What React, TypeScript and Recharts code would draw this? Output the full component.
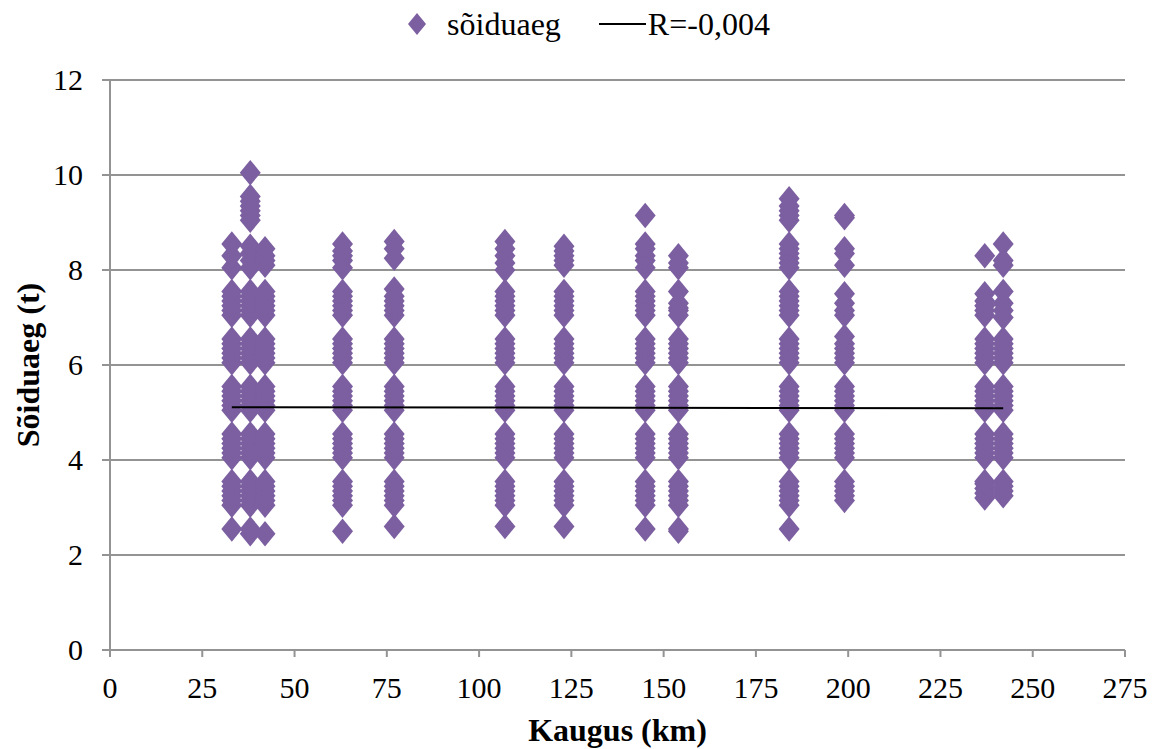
import { ScatterChart, Scatter, XAxis, YAxis, CartesianGrid, Legend } from "recharts";

// distances (km) where the trips were measured
const kaugus = [33, 38, 42, 63, 77, 107, 123, 145, 154, 184, 199, 237, 242];

// travel time values (t) read for each distance column
const col33 = [2.55, 3.05, 3.15, 3.25, 3.35, 3.45, 3.55, 4.05, 4.15, 4.25, 4.35, 4.45, 4.55, 5.05, 5.15, 5.25, 5.35, 5.45, 5.55, 6.05, 6.15, 6.25, 6.35, 6.45, 6.55, 7.05, 7.15, 7.25, 7.35, 7.45, 7.55, 8.05, 8.3, 8.55];
const col38 = [2.45, 2.55, 3.05, 3.15, 3.25, 3.35, 3.45, 3.55, 4.05, 4.15, 4.25, 4.35, 4.45, 4.55, 5.05, 5.15, 5.25, 5.35, 5.45, 5.55, 6.05, 6.15, 6.25, 6.35, 6.45, 6.55, 7.05, 7.15, 7.25, 7.35, 7.45, 7.55, 8.05, 8.2, 8.35, 8.5, 9.05, 9.15, 9.25, 9.35, 9.45, 9.55, 10.05];
const col42 = [2.45, 3.05, 3.15, 3.25, 3.35, 3.45, 3.55, 4.05, 4.15, 4.25, 4.35, 4.45, 4.55, 5.05, 5.15, 5.25, 5.35, 5.45, 5.55, 6.05, 6.15, 6.25, 6.35, 6.45, 6.55, 7.05, 7.15, 7.25, 7.35, 7.45, 7.55, 8.1, 8.2, 8.3, 8.45];
const col63 = [2.5, 3.05, 3.15, 3.25, 3.35, 3.45, 3.55, 4.05, 4.15, 4.25, 4.35, 4.45, 4.55, 5.05, 5.15, 5.25, 5.35, 5.45, 5.55, 6.05, 6.15, 6.25, 6.35, 6.45, 6.55, 7.05, 7.15, 7.25, 7.35, 7.45, 7.55, 8.05, 8.2, 8.3, 8.4, 8.55];
const col77 = [2.6, 3.05, 3.15, 3.25, 3.35, 3.45, 3.55, 4.05, 4.15, 4.25, 4.35, 4.45, 4.55, 5.05, 5.15, 5.25, 5.35, 5.45, 5.55, 6.05, 6.15, 6.25, 6.35, 6.45, 6.55, 7.05, 7.15, 7.25, 7.35, 7.45, 7.6, 8.25, 8.45, 8.6];
const col107 = [2.6, 3.05, 3.15, 3.25, 3.35, 3.45, 3.55, 4.05, 4.15, 4.25, 4.35, 4.45, 4.55, 5.05, 5.15, 5.25, 5.35, 5.45, 5.55, 6.05, 6.15, 6.25, 6.35, 6.45, 6.55, 7.05, 7.15, 7.25, 7.35, 7.45, 7.55, 8.0, 8.15, 8.3, 8.45, 8.6];
const col123 = [2.6, 3.05, 3.15, 3.25, 3.35, 3.45, 3.55, 4.05, 4.15, 4.25, 4.35, 4.45, 4.55, 5.05, 5.15, 5.25, 5.35, 5.45, 5.55, 6.05, 6.15, 6.25, 6.35, 6.45, 6.55, 7.05, 7.15, 7.25, 7.35, 7.45, 7.55, 8.1, 8.2, 8.3, 8.4, 8.5];
const col145 = [2.55, 3.05, 3.15, 3.25, 3.35, 3.45, 3.55, 4.05, 4.15, 4.25, 4.35, 4.45, 4.55, 5.05, 5.15, 5.25, 5.35, 5.45, 5.55, 6.05, 6.15, 6.25, 6.35, 6.45, 6.55, 7.05, 7.15, 7.25, 7.35, 7.45, 7.55, 8.05, 8.2, 8.3, 8.45, 8.55, 9.15];
const col154 = [2.5, 2.55, 3.05, 3.15, 3.25, 3.35, 3.45, 3.55, 4.05, 4.15, 4.25, 4.35, 4.45, 4.55, 5.05, 5.15, 5.25, 5.35, 5.45, 5.55, 6.05, 6.15, 6.25, 6.35, 6.45, 6.55, 7.05, 7.15, 7.2, 7.3, 7.55, 8.05, 8.15, 8.3];
const col184 = [2.55, 3.05, 3.15, 3.25, 3.35, 3.45, 3.55, 4.05, 4.15, 4.25, 4.35, 4.45, 4.55, 5.05, 5.15, 5.25, 5.35, 5.45, 5.55, 6.05, 6.15, 6.25, 6.35, 6.45, 6.55, 7.05, 7.15, 7.25, 7.35, 7.45, 7.55, 8.05, 8.15, 8.25, 8.35, 8.45, 8.55, 9.05, 9.15, 9.25, 9.35, 9.5];
const col199 = [3.15, 3.25, 3.35, 3.45, 3.55, 4.05, 4.15, 4.25, 4.35, 4.45, 4.55, 5.05, 5.15, 5.25, 5.35, 5.45, 5.55, 6.05, 6.15, 6.25, 6.35, 6.45, 6.6, 7.05, 7.15, 7.3, 7.5, 8.1, 8.35, 8.45, 9.1, 9.15];
const col237 = [3.2, 3.3, 3.4, 3.5, 3.55, 4.05, 4.15, 4.25, 4.35, 4.45, 4.55, 5.05, 5.15, 5.25, 5.35, 5.45, 5.55, 6.05, 6.15, 6.25, 6.35, 6.45, 6.55, 7.05, 7.15, 7.25, 7.35, 7.5, 8.3];
const col242 = [3.25, 3.35, 3.45, 3.55, 4.05, 4.15, 4.25, 4.35, 4.45, 4.55, 5.05, 5.15, 5.25, 5.35, 5.45, 5.55, 6.05, 6.15, 6.25, 6.35, 6.45, 6.55, 7.0, 7.15, 7.3, 7.55, 8.1, 8.2, 8.55];

const soiduaeg = [col33, col38, col42, col63, col77, col107, col123, col145, col154, col184, col199, col237, col242];

// linear trend line end points
const trendX = [33, 242];
const trendY = [5.11, 5.09];

const xTicks = [0, 25, 50, 75, 100, 125, 150, 175, 200, 225, 250, 275];
const yTicks = [0, 2, 4, 6, 8, 10, 12];

const points = kaugus.flatMap((x, i) => soiduaeg[i].map((y) => ({ x, y })));
const trend = trendX.map((x, i) => ({ x, y: trendY[i] }));

const PURPLE = "#7c5fa0";
const GRID = "#939393";
const FONT = "Liberation Serif, DejaVu Serif, serif";

const Diamond = (props: any) => {
  const { cx, cy } = props;
  if (cx == null || cy == null) return <g />;
  return (
    <polygon
      points={`${cx},${cy - 12.75} ${cx + 10.5},${cy} ${cx},${cy + 12.75} ${cx - 10.5},${cy}`}
      fill={PURPLE}
    />
  );
};

const NoDot = () => <g />;

const XTick = (props: any) => {
  const { x, y, payload } = props;
  return (
    <text x={x} y={y} dy={22} textAnchor="middle" fill="#000" style={{ fontFamily: FONT, fontSize: 30 }}>
      {payload.value}
    </text>
  );
};

const YTick = (props: any) => {
  const { x, y, payload } = props;
  return (
    <text x={x} y={y} dy={10} textAnchor="end" fill="#000" style={{ fontFamily: FONT, fontSize: 30 }}>
      {payload.value}
    </text>
  );
};

const LegendBox = () => (
  <div
    style={{
      height: 40,
      display: "flex",
      alignItems: "center",
      justifyContent: "center",
      fontFamily: FONT,
      fontSize: 32,
      color: "#000",
      paddingLeft: 52,
    }}
  >
    <svg width={20} height={24} style={{ marginRight: 20 }}>
      <polygon points="10,1 19,12 10,23 1,12" fill={PURPLE} />
    </svg>
    <span>sõiduaeg</span>
    <span
      style={{
        display: "inline-block",
        width: 47,
        height: 0,
        borderTop: "2px solid #000",
        marginLeft: 38,
        marginRight: 2,
      }}
    />
    <span>R=-0,004</span>
  </div>
);

export default function App() {
  return (
    <div style={{ position: "absolute", left: 0, top: 0, background: "#fff" }}>
      <ScatterChart
        width={1157}
        height={749}
        margin={{ top: 40, right: 32, bottom: 0, left: 0 }}
      >
        <CartesianGrid horizontal vertical={false} stroke={GRID} strokeWidth={2} />
        <XAxis
          type="number"
          dataKey="x"
          domain={[0, 275]}
          ticks={xTicks}
          interval={0}
          height={99}
          stroke={GRID}
          strokeWidth={2}
          tickSize={7}
          tickMargin={19}
          tick={<XTick />}
          label={{
            value: "Kaugus (km)",
            position: "insideBottom",
            offset: 8,
            style: { fill: "#000", fontFamily: FONT, fontSize: 32, fontWeight: "bold" },
          }}
        />
        <YAxis
          type="number"
          dataKey="y"
          domain={[0, 12]}
          ticks={yTicks}
          interval={0}
          width={110}
          stroke={GRID}
          strokeWidth={2}
          tickSize={8}
          tickMargin={19}
          tick={<YTick />}
          label={{
            value: "Sõiduaeg (t)",
            angle: -90,
            position: "insideLeft",
            offset: 28,
            style: {
              fill: "#000",
              fontFamily: FONT,
              fontSize: 32,
              fontWeight: "bold",
              textAnchor: "middle",
            },
          }}
        />
        <Legend verticalAlign="top" wrapperStyle={{ top: 4 }} content={() => <LegendBox />} />
        <Scatter
          name="sõiduaeg"
          data={points}
          shape={Diamond}
          isAnimationActive={false}
        />
        <Scatter
          name="R=-0,004"
          data={trend}
          line={{ stroke: "#000", strokeWidth: 2 }}
          shape={NoDot}
          isAnimationActive={false}
        />
      </ScatterChart>
    </div>
  );
}
